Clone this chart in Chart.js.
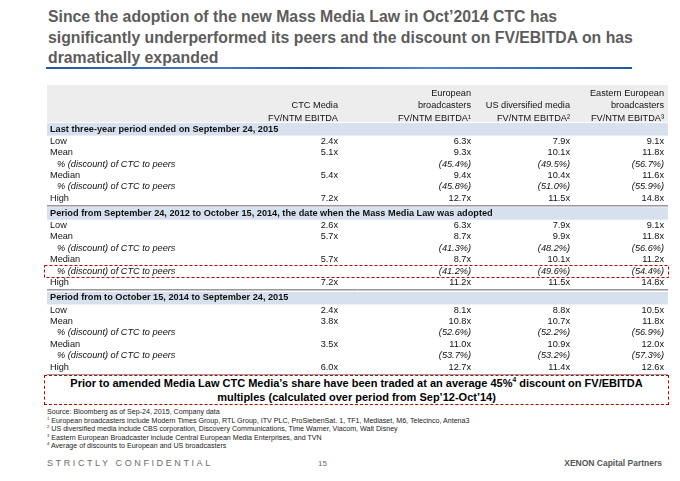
<!DOCTYPE html>
<html>
<head>
<meta charset="utf-8">
<script src="https://cdn.jsdelivr.net/npm/chart.js"></script>
<style>
  body { margin: 0; width: 680px; height: 481px; background: #fff; position: relative; overflow: hidden;
         font-family: "Liberation Sans", Arial, sans-serif; }
  #title { position: absolute; left: 48px; top: 7px; font-size: 15.8px; font-weight: bold; color: #5c5c5c; line-height: 20.5px; }
  #rule { position: absolute; left: 46px; top: 67px; width: 586px; height: 2px;
          background: linear-gradient(90deg, #1b5d9c 0%, #3d7fc0 30%, #1b5d9c 45%, #4a8ccc 65%, #1b5d9c 100%); }
  #tableCanvas { position: absolute; left: 0; top: 80px; }
  #note { position: absolute; left: 44px; top: 375px; width: 623px; height: 28px; border: 1px dashed #c00000;
          text-align: center; font-weight: bold; font-size: 11px; line-height: 14px; color: #000; }
  #note sup, #sources sup { font-size: 60%; line-height: 0; }
  #sources { position: absolute; left: 47px; top: 408px; font-size: 7.1px; line-height: 8.6px; color: #222; }
  .foot { position: absolute; top: 458px; font-size: 9px; color: #6b6b6b; }
  #conf { left: 47px; letter-spacing: 2.6px; }
  #page { left: 318px; font-size: 8px; top: 459px; }
  #brand { right: 18px; font-weight: bold; font-size: 8.5px; color: #555; }
</style>
</head>
<body>
<div id="title">Since the adoption of the new Mass Media Law in Oct’2014 CTC has<br>significantly underperformed its peers and the discount on FV/EBITDA on has<br>dramatically expanded</div>
<div id="rule"></div>
<canvas id="tableCanvas" width="680" height="295"></canvas>
<div id="note">Prior to amended Media Law CTC Media’s share have been traded at an average 45%<sup>4</sup> discount on FV/EBITDA<br>multiples (calculated over period from Sep’12-Oct’14)</div>
<div id="sources">
  Source: Bloomberg as of Sep-24, 2015, Company data<br>
  <sup>1</sup> European broadcasters include Modern Times Group, RTL Group, ITV PLC, ProSiebenSat. 1, TF1, Mediaset, M6, Telecinco, Antena3<br>
  <sup>2</sup> US diversified media include CBS corporation, Discovery Communications, Time Warner, Viacom, Walt Disney<br>
  <sup>3</sup> Eastern European Broadcaster include Central European Media Enterprises, and TVN<br>
  <sup>4</sup> Average of discounts to European and US broadcasters
</div>
<div class="foot" id="conf">STRICTLY CONFIDENTIAL</div>
<div class="foot" id="page">15</div>
<div class="foot" id="brand">XENON Capital Partners</div>

<script>
// ---- data ----
const headerLines = [
  ['', 'European', '', 'Eastern European'],
  ['CTC Media', 'broadcasters', 'US diversified media', 'broadcasters'],
  ['FV/NTM EBITDA', 'FV/NTM EBITDA¹', 'FV/NTM EBITDA²', 'FV/NTM EBITDA³']
];
const sectionTitles = [
  'Last three-year period ended on September 24, 2015',
  'Period from September 24, 2012 to October 15, 2014, the date when the Mass Media Law was adopted',
  'Period from to October 15, 2014 to September 24, 2015'
];
const rowLabels = ['Low', 'Mean', '% (discount) of CTC to peers', 'Median', '% (discount) of CTC to peers', 'High'];

// multiples per section: [CTC, European, US, Eastern European]
const lowValues    = [[2.4, 6.3, 7.9, 9.1],  [2.6, 6.3, 7.9, 9.1],  [2.4, 8.1, 8.8, 10.5]];
const meanValues   = [[5.1, 9.3, 10.1, 11.8], [5.7, 8.7, 9.9, 11.8], [3.8, 10.8, 10.7, 11.8]];
const medianValues = [[5.4, 9.4, 10.4, 11.6], [5.7, 8.7, 10.1, 11.2], [3.5, 11.0, 10.9, 12.0]];
const highValues   = [[7.2, 12.7, 11.5, 14.8], [7.2, 11.2, 11.5, 14.8], [6.0, 12.7, 11.4, 12.6]];
// % discount of CTC to peers: [European, US, Eastern European]
const meanDiscount   = [[45.4, 49.5, 56.7], [41.3, 48.2, 56.6], [52.6, 52.2, 56.9]];
const medianDiscount = [[45.8, 51.0, 55.9], [41.2, 49.6, 54.4], [53.7, 53.2, 57.3]];

// ---- layout (page pixels / row units) ----
const TABLE_LEFT = 47, TABLE_RIGHT = 668;
const BOX_LEFT = 44;
const LABEL_X = 50, INDENT_X = 57;
const COL_RIGHT = [338, 471, 570, 664];
const ROW_PX = 11.45, FIRST_ROW_Y = 93, CANVAS_TOP = 80, CANVAS_H = 295;
const HEADER_STEP = 1.1;
const SECTION_GAP = [0.95, 1.3, 1.35];
const FONT_PX = 9.2;
const FONT = '"Liberation Sans", Arial, sans-serif';

const TableModule = {
  chart: null,

  // row positions in "row units"
  slots: function() {
    const header = headerLines.map((_, i) => i * HEADER_STEP);
    const sections = [];
    let s = header[header.length - 1];
    for (let i = 0; i < sectionTitles.length; i++) {
      s += SECTION_GAP[i];
      const sec = { title: s, rows: [] };
      s += 1.05;
      for (let r = 0; r < rowLabels.length; r++) {
        if (r > 0) s += 1;
        sec.rows.push(s);
      }
      sections.push(sec);
    }
    return { header, sections };
  },

  buildCells: function() {
    const sl = this.slots();
    const cells = [];
    const mult = v => v.toFixed(1) + 'x';
    const pct = v => '(' + v.toFixed(1) + '%)';

    headerLines.forEach((line, li) => {
      line.forEach((t, c) => {
        if (t) cells.push({ x: COL_RIGHT[c], y: sl.header[li], text: t, align: 'right' });
      });
    });

    sl.sections.forEach((sec, si) => {
      cells.push({ x: LABEL_X, y: sec.title, text: sectionTitles[si], align: 'left', bold: true });
      rowLabels.forEach((lab, r) => {
        const isPct = (r === 2 || r === 4);
        cells.push({ x: isPct ? INDENT_X : LABEL_X, y: sec.rows[r], text: lab, align: 'left', italic: isPct });
      });
      const rowsData = [lowValues[si], meanValues[si], null, medianValues[si], null, highValues[si]];
      rowsData.forEach((vals, r) => {
        if (!vals) return;
        vals.forEach((v, c) => cells.push({ x: COL_RIGHT[c], y: sec.rows[r], text: mult(v), align: 'right' }));
      });
      meanDiscount[si].forEach((v, c) =>
        cells.push({ x: COL_RIGHT[c + 1], y: sec.rows[2], text: pct(v), align: 'right', italic: true }));
      medianDiscount[si].forEach((v, c) =>
        cells.push({ x: COL_RIGHT[c + 1], y: sec.rows[4], text: pct(v), align: 'right', italic: true }));
    });
    return cells;
  },

  // backgrounds, rules and the highlight box
  plugin: {
    id: 'tableDecor',
    beforeDatasetsDraw: function(chart) {
      const ctx = chart.ctx, xs = chart.scales.x, ys = chart.scales.y;
      const sl = TableModule.slots();
      const l = xs.getPixelForValue(TABLE_LEFT), r = xs.getPixelForValue(TABLE_RIGHT);
      ctx.save();
      // header band
      const hTop = ys.getPixelForValue(sl.header[0]) - 8;
      const hBot = ys.getPixelForValue(sl.header[2]) + 4;
      ctx.fillStyle = '#ededed';
      ctx.fillRect(l, hTop, r - l, hBot - hTop);
      sl.sections.forEach((sec, i) => {
        const cy = ys.getPixelForValue(sec.title);
        ctx.fillStyle = '#d7e1ee';
        ctx.fillRect(l, cy - 6, r - l, 12.5);
        const ly = Math.round(ys.getPixelForValue(sec.rows[5]) + 6.5) + 0.5;
        ctx.strokeStyle = '#9a9a9a';
        ctx.lineWidth = 1;
        ctx.beginPath(); ctx.moveTo(l, ly); ctx.lineTo(r, ly); ctx.stroke();
        ctx.strokeStyle = '#c8c8c8';
        ctx.beginPath(); ctx.moveTo(l, ly + 1); ctx.lineTo(r, ly + 1); ctx.stroke();
      });
      // highlighted median discount row, second period
      const by = ys.getPixelForValue(sl.sections[1].rows[4]);
      ctx.strokeStyle = '#c00000';
      ctx.setLineDash([3, 2]);
      ctx.lineWidth = 1;
      ctx.strokeRect(xs.getPixelForValue(BOX_LEFT) + 0.5, Math.round(by - 6) + 0.5,
                     xs.getPixelForValue(TABLE_RIGHT) - xs.getPixelForValue(BOX_LEFT), 12);
      ctx.restore();
    },
    afterDatasetsDraw: function(chart) {
      const ctx = chart.ctx;
      const ds = chart.data.datasets[0];
      const meta = chart.getDatasetMeta(0);
      ctx.save();
      ctx.fillStyle = '#111';
      ctx.textBaseline = 'middle';
      meta.data.forEach((el, i) => {
        const c = ds.data[i];
        ctx.font = (c.italic ? 'italic ' : '') + (c.bold ? 'bold ' : '') + FONT_PX + 'px ' + FONT;
        ctx.textAlign = c.align;
        ctx.fillText(c.text, el.x, el.y);
      });
      ctx.restore();
    }
  },

  init: function() {
    const yMin = -(FIRST_ROW_Y - CANVAS_TOP) / ROW_PX;
    this.chart = new Chart(document.getElementById('tableCanvas'), {
      type: 'scatter',
      data: { datasets: [{ data: this.buildCells(), pointRadius: 0, pointHoverRadius: 0 }] },
      options: {
        responsive: false,
        devicePixelRatio: 1,
        animation: false,
        events: [],
        layout: { padding: 0 },
        plugins: { legend: { display: false }, tooltip: { enabled: false } },
        scales: {
          x: { type: 'linear', display: false, min: 0, max: 680 },
          y: { type: 'linear', display: false, reverse: true, min: yMin, max: yMin + CANVAS_H / ROW_PX }
        }
      },
      plugins: [this.plugin]
    });
  }
};

TableModule.init();
</script>
</body>
</html>
